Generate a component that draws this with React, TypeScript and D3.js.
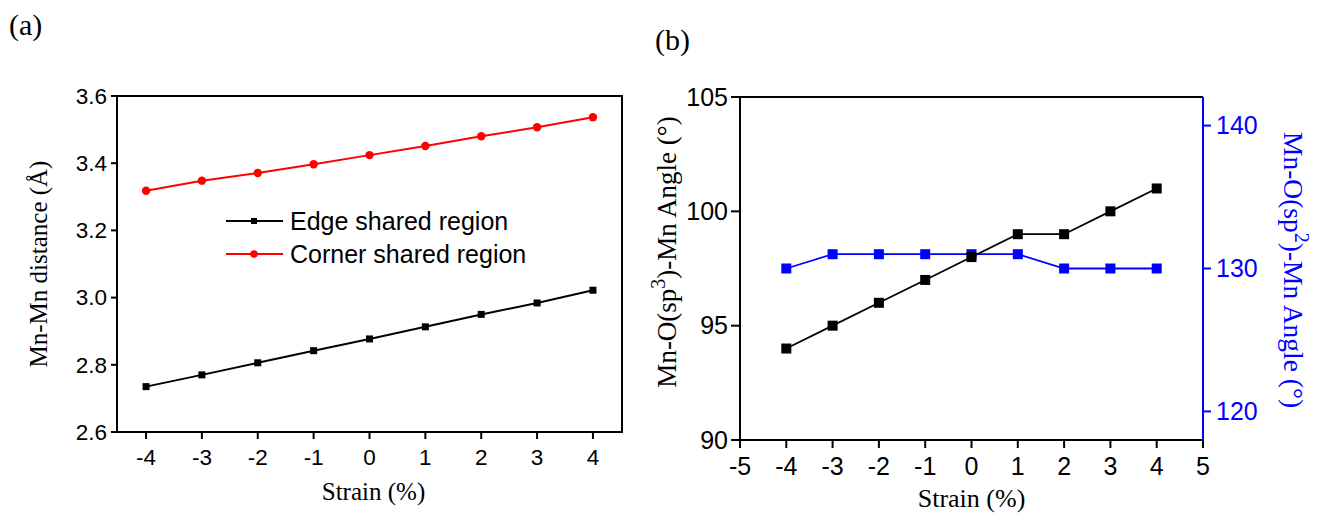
import React from "react";
import * as d3 from "d3";

const strainA = [-4, -3, -2, -1, 0, 1, 2, 3, 4];
const edgeShared = [2.735, 2.770, 2.806, 2.842, 2.877, 2.913, 2.950, 2.984, 3.022];
const cornerShared = [3.318, 3.348, 3.371, 3.397, 3.424, 3.451, 3.480, 3.507, 3.537];
const yTicksA = [2.6, 2.8, 3.0, 3.2, 3.4, 3.6];
const xTicksA = [-4, -3, -2, -1, 0, 1, 2, 3, 4];

const strainB = [-4, -3, -2, -1, 0, 1, 2, 3, 4];
const angleSp3 = [94, 95, 96, 97, 98, 99, 99, 100, 101];
const angleSp2 = [130, 131, 131, 131, 131, 131, 130, 130, 130];
const yTicksBLeft = [90, 95, 100, 105];
const yTicksBRight = [120, 130, 140];
const xTicksB = [-5, -4, -3, -2, -1, 0, 1, 2, 3, 4, 5];

const SANS = "'Liberation Sans', Arial, sans-serif";
const SERIF = "'Liberation Serif', 'Times New Roman', serif";
const BLUE = "#0000ff";
const RED = "#ff0000";

function PanelA() {
  const L = 117, R = 622, T = 96, B = 432;
  const x = d3.scaleLinear().domain([-4.52, 4.52]).range([L, R]);
  const y = d3.scaleLinear().domain([2.6, 3.6]).range([B, T]);
  const line = d3.line<number>().x((_, i) => x(strainA[i])).y((v) => y(v));
  const edgePath = line(edgeShared) || "";
  const cornerPath = line(cornerShared) || "";
  return (
    <g>
      <rect x={L} y={T} width={R - L} height={B - T} fill="none" stroke="#000" strokeWidth={2} />
      {yTicksA.map((t) => (
        <g key={t}>
          <line x1={L - 6} x2={L} y1={y(t)} y2={y(t)} stroke="#000" strokeWidth={2} />
          <text x={L - 10} y={y(t)} dy="0.35em" textAnchor="end" fontFamily={SANS} fontSize={22.5}>
            {t.toFixed(1)}
          </text>
        </g>
      ))}
      {xTicksA.map((t) => (
        <g key={t}>
          <line x1={x(t)} x2={x(t)} y1={B} y2={B + 7} stroke="#000" strokeWidth={2} />
          <text x={x(t)} y={B + 33} textAnchor="middle" fontFamily={SANS} fontSize={22.5}>
            {t}
          </text>
        </g>
      ))}
      <path d={cornerPath} fill="none" stroke={RED} strokeWidth={2} />
      <path d={edgePath} fill="none" stroke="#000" strokeWidth={2} />
      {cornerShared.map((v, i) => (
        <circle key={"c" + i} cx={x(strainA[i])} cy={y(v)} r={4.2} fill={RED} />
      ))}
      {edgeShared.map((v, i) => (
        <rect key={"e" + i} x={x(strainA[i]) - 3.5} y={y(v) - 3.5} width={7} height={7} fill="#000" />
      ))}
      {/* legend */}
      <line x1={226} x2={283} y1={221} y2={221} stroke="#000" strokeWidth={2} />
      <rect x={251} y={218} width={6} height={6} fill="#000" />
      <text x={290} y={221} dy="0.35em" fontFamily={SANS} fontSize={25}>Edge shared region</text>
      <line x1={226} x2={283} y1={254} y2={254} stroke={RED} strokeWidth={2} />
      <circle cx={254} cy={254} r={3.8} fill={RED} />
      <text x={290} y={254} dy="0.35em" fontFamily={SANS} fontSize={25}>Corner shared region</text>
      <text x={(L + R) / 2 + 4} y={500} textAnchor="middle" fontFamily={SERIF} fontSize={25}>Strain (%)</text>
      <text transform={`translate(47,${(T + B) / 2}) rotate(-90)`} textAnchor="middle" fontFamily={SERIF} fontSize={25}>
        Mn-Mn distance (Å)
      </text>
    </g>
  );
}

function PanelB() {
  const L = 740, R = 1203, T = 97, B = 440;
  const x = d3.scaleLinear().domain([-5, 5]).range([L, R]);
  const yL = d3.scaleLinear().domain([90, 105]).range([B, T]);
  const yR = d3.scaleLinear().domain([118, 142]).range([B, T]);
  const lineL = d3.line<number>().x((_, i) => x(strainB[i])).y((v) => yL(v));
  const lineR = d3.line<number>().x((_, i) => x(strainB[i])).y((v) => yR(v));
  const s = 10;
  return (
    <g>
      <line x1={L} x2={R} y1={T} y2={T} stroke="#000" strokeWidth={2} />
      <line x1={L} x2={L} y1={T} y2={B} stroke="#000" strokeWidth={2} />
      <line x1={L} x2={R} y1={B} y2={B} stroke="#000" strokeWidth={2} />
      <line x1={R} x2={R} y1={T} y2={B} stroke={BLUE} strokeWidth={2} />
      {yTicksBLeft.map((t) => (
        <g key={t}>
          <line x1={L - 9} x2={L} y1={yL(t)} y2={yL(t)} stroke="#000" strokeWidth={2} />
          <text x={L - 12} y={yL(t)} dy="0.35em" textAnchor="end" fontFamily={SANS} fontSize={25}>
            {t}
          </text>
        </g>
      ))}
      {yTicksBRight.map((t) => (
        <g key={t}>
          <line x1={R} x2={R + 8} y1={yR(t)} y2={yR(t)} stroke={BLUE} strokeWidth={2} />
          <text x={R + 13} y={yR(t)} dy="0.35em" textAnchor="start" fontFamily={SANS} fontSize={25} fill={BLUE}>
            {t}
          </text>
        </g>
      ))}
      {xTicksB.map((t) => (
        <g key={t}>
          <line x1={x(t)} x2={x(t)} y1={B} y2={B + 8} stroke="#000" strokeWidth={2} />
          <text x={x(t)} y={B + 35} textAnchor="middle" fontFamily={SANS} fontSize={25}>
            {t}
          </text>
        </g>
      ))}
      <path d={lineR(angleSp2) || ""} fill="none" stroke={BLUE} strokeWidth={1.8} />
      <path d={lineL(angleSp3) || ""} fill="none" stroke="#000" strokeWidth={1.8} />
      {angleSp2.map((v, i) => (
        <rect key={"b" + i} x={x(strainB[i]) - s / 2} y={yR(v) - s / 2} width={s} height={s} fill={BLUE} />
      ))}
      {angleSp3.map((v, i) => (
        <rect key={"k" + i} x={x(strainB[i]) - s / 2} y={yL(v) - s / 2} width={s} height={s} fill="#000" />
      ))}
      <text x={(L + R) / 2} y={507} textAnchor="middle" fontFamily={SERIF} fontSize={26}>Strain (%)</text>
      <text transform={`translate(676,252) rotate(-90)`} textAnchor="middle" fontFamily={SERIF} fontSize={27}>
        Mn-O(sp<tspan dy={-11} fontSize={20}>3</tspan><tspan dy={11}>)-Mn Angle (°)</tspan>
      </text>
      <text transform={`translate(1284,270) rotate(90)`} textAnchor="middle" fontFamily={SERIF} fontSize={27.5} fill={BLUE}>
        Mn-O(sp<tspan dy={-11} fontSize={20}>2</tspan><tspan dy={11}>)-Mn Angle (°)</tspan>
      </text>
    </g>
  );
}

export default function App() {
  return (
    <svg
      width={1319}
      height={516}
      viewBox="0 0 1319 516"
      style={{ position: "absolute", left: 0, top: 0, background: "#fff" }}
    >
      <rect x={0} y={0} width={1319} height={516} fill="#fff" />
      <text x={9} y={35} fontFamily={SERIF} fontSize={30}>(a)</text>
      <text x={655} y={50} fontFamily={SERIF} fontSize={30}>(b)</text>
      <PanelA />
      <PanelB />
    </svg>
  );
}
